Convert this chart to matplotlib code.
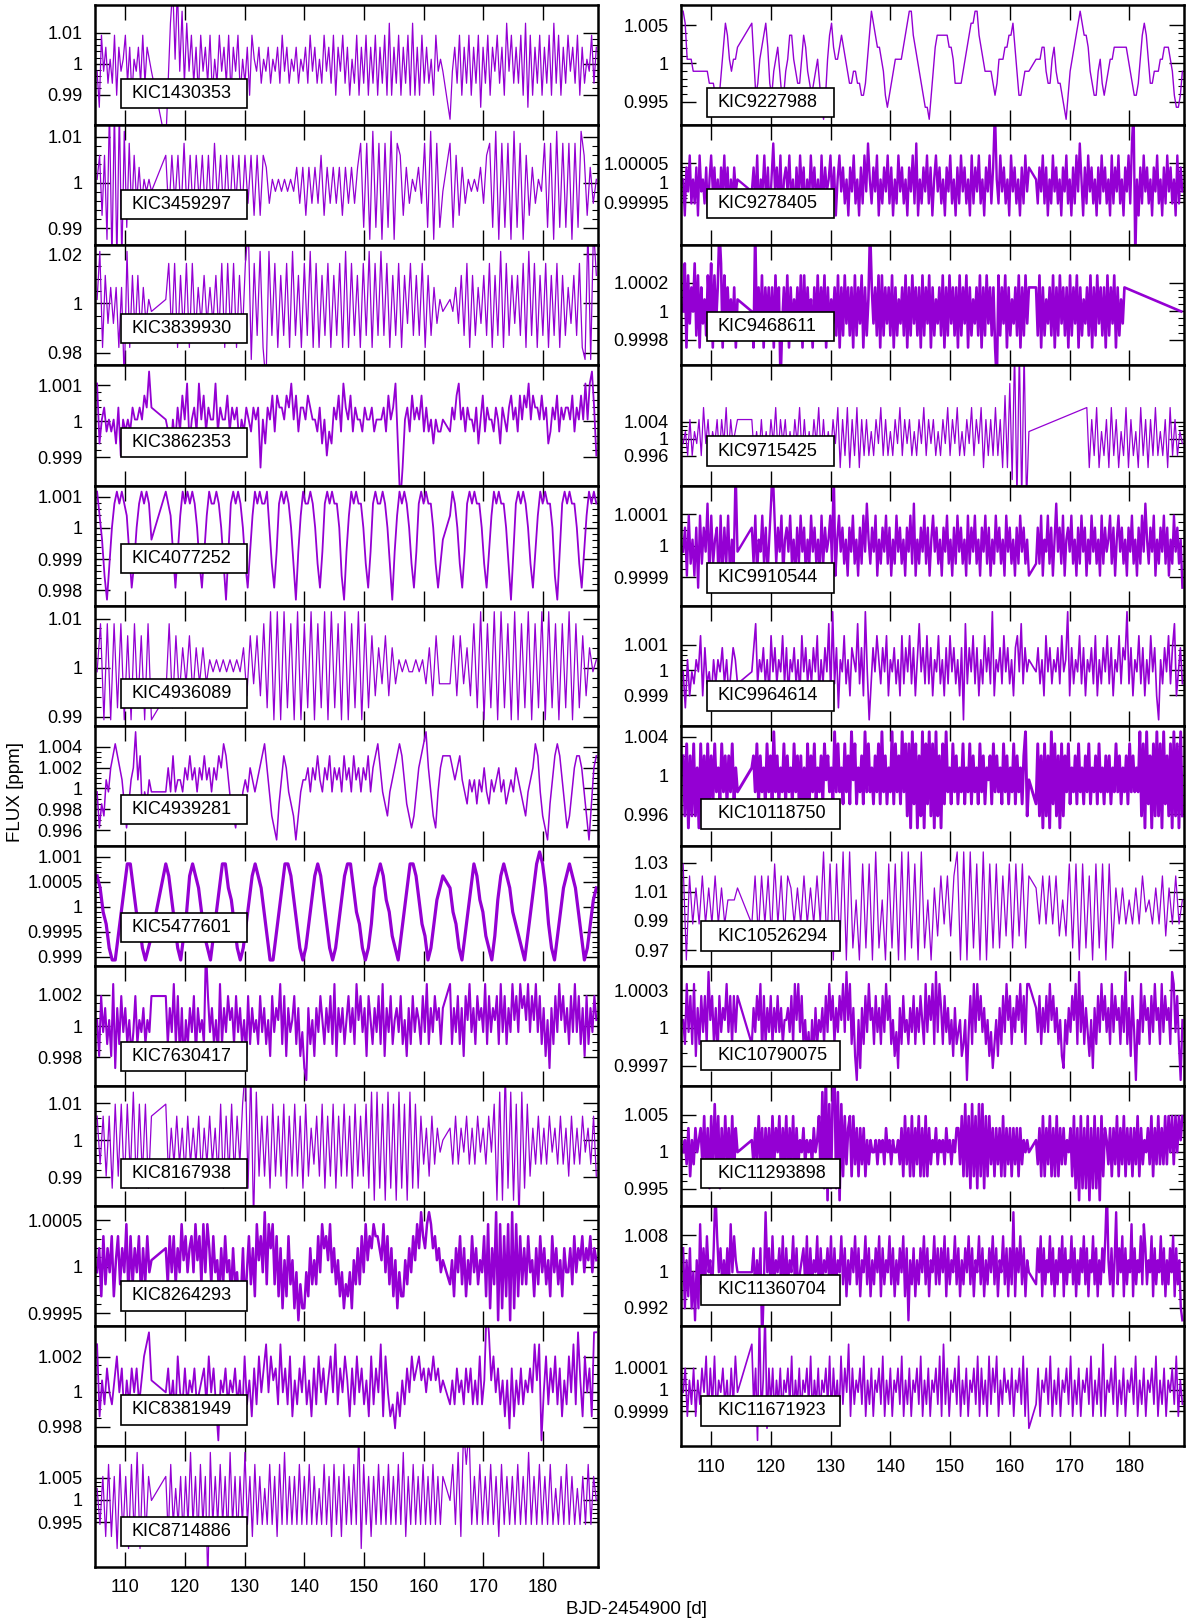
import numpy as np
import matplotlib.pyplot as plt
from matplotlib.patches import Rectangle
from matplotlib.ticker import FixedLocator

plt.rcParams['font.family'] = ['Liberation Sans', 'DejaVu Sans']

# observing windows (BJD-2454900); lines are drawn straight across the gaps
windows = [(105.3, 114.4), (116.8, 163.2), (164.4, 188.9)]
windows_kic9468611 = [(105.3, 114.4), (116.8, 163.2), (164.4, 179.2), (188.7, 188.7)]
windows_kic9715425 = [(105.3, 114.4), (116.8, 163.2), (172.9, 188.9)]

# flux, one digit per sample in each window:
# flux = base + digit * step ; '+' / '-' are samples that leave the panel
kic1430353 = ["41746353726457362546373654",
              "-38+5+49384736274637253746372647253627" "5463546354637463546354" "6374635374637264736253"
              "7263726372637282637263" "7282627363527454",
              "0463726372637163726473" "6284736372817263" "7263728372637463726354736"]
kic3459297 = ["57270+-+-+-918273635454",
              "727372827273727283727273727372727" "6354" "545454" "636263637263636263636" "8180918081908"
              "72635463" "8190814",
              "817263545" "4637" "819081809180" "726354" "8180918180819" "72635"]
kic3839930 = ["5917363616-9172726354",
              "5828172818263736372818281728+08291-928172819271829181728172819182718291829281728173827281726354",
              "5463728172637281729182737281928172817281726372810+0+7"]
kic3862353 = ["835645453625454655657696",
              "5425364758" "356485746558" "465574656354654656" "153" "65747665768574665765" "54635243"
              "657486574655465" "564555647568" "3-1" "5647565746" "4535445",
              "46578564655463574655465365467564757685766575634657465665746575858962"]
kic4077252 = ["97520368989874136898985",
              "98741" "47989898631" "4798898630" "489898631" "47989889631" "489898630" "4798898631"
              "4898988620" "4798988631" "4898898630" "479898631" "4898988631" "35",
              "798631" "4898988631" "4798988630" "489898631" "4798988620" "4898988631" "479898"]
kic4936089 = ["48080818070817080",
              "281726372" "636354545" "45454" "6273728190" "90918090819081909180908190" "817263726354"
              "544545362733",
              "372736281" "908190918090819081909180819081" "72645"]
kic4939281 = ["4132546787653135695724354",
              "464" "745" "54657564657564657" "68753" "21324" "5465456" "78642" "1035" "7643" "20245"
              "5646575465746564756475646574" "67864" "32456" "787532" "1246" "78964" "21467",
              "7656" "75435" "4535464354564534546543245" "68742" "1035" "78753" "1246" "77642" "0367"]
kic5477601 = ["7643100246886431012",
              "875310" "2478" "764210" "2468" "865310" "13578" "764200" "24688" "75310" "13578" "75310"
              "135788" "64310" "13678" "754210" "24688" "75320" "13567",
              "64310" "2468" "754210" "2578" "7643210" "246898" "6310" "246787" "64201" "356"]
kic7630417 = ["5274635281637463524735463547",
              "73648372615364726453+7463528364756374635273645374635274658372645736241063526475364738264635746385746275364738264735647352637465374836475636",
              "8364736275846375648374657384736485748675847584736251637485746374847362736475"]
kic8167938 = ["7372718281829182817",
              "8263736273637263" "736281728273" "8+1+-927" "2718272817282718263728172817282718272"
              "81909180918091809181" "736273645",
              "6373647363746374" "8090+1908-9182" "637363746373627363746372"]
kic8264293 = ["462736472573648273647263745",
              "6374736485746" "748573848" "6374526374526341" "2614736285749386" "8372615273514031"
              "14263537486" "75846352413" "241536374857687" "7658473625142" "25364758697689" "8675645",
              "35264736253746354" "72816390817280918273" "6374526374635274635264" "463746574657465"]
kic8381949 = ["82536435746253646357895",
              "4635274363" "546345637463054" "635463527352637" "46847563" "84637253647352637"
              "463574836475263746" "3527364827" "42314253" "6475675646575645",
              "3536453646353735+957463525162536354648580473647362537483952746299"]
kic8714886 = ["63728271827182918275",
              "72836372739372837-937383729372739372837363837283937373837383736383728372837383+1837273837383738392738373837383737",
              "58392+8+37383738372837373837393738373836373837363738375"]

kic9227988 = ["9855544444444333212468754556",
              "85235678632456422457754335764323453102578655676543344332235798766542123455556789976543211024677777766533334567889976544443235556677864223444",
              "55566433564332102456789877643224532345566666665432235787533444556665421124"]
kic9278405 = ["5264735362745362574635264736253645",
              "4637254736258463725647352637462537463527364573625746352647352637485364725364736253746352647382536473625746352647352637463527364735264736+5374635274635263746",
              "5364736253746352647352637485263746352637463527364735264738+-5263746352647352637463527364"]
kic9468611 = ["4817364827163527481736+81746352615",
              "41+26271636261726-3627162536271726351627263716253627162736261726371625+63627172636271625362716273626172637162536271627362617263716253627162736261-7263716253627162736",
              "62716253627162736261726371625362716273626172637162536",
              "4"]
kic9715425 = ["3425243526352435253625345",
              "52425242536253524253625242536252425361526152615252425362524253625352425362535242536253624253625361525262517180+-+-+-4",
              "6152614251625142615241625152624251625243"]
kic9910544 = ["4627352617364827356172637253+4",
              "637254736258+7364725647352637462537463527364573+2574635264735263748536472536473625374635264738253647362574635264735263746352736473526473625374635274635263746352",
              "3637254736258463725647352637462537463527364573625746352647352637485364725364736253746351"]
kic9964614 = ["41524354726342535463524653",
              "4683546352746354736254635274635364725364829361547352654836294036475364725463527364736258463736254735263746352608364736253746392546374635267483645",
              "463527463546374592635473625463725364736254736593625473625374620536473682463"]
kic10118750 = ["7281728261837283" "7384638473748364",
               "67483746384739473648374638473" "72618" "37483647385746" "3948463847395836473948463748394736"
               "4938473948" "281938172918392819271" "8394" "638473648364837463847365738474638473648374637" "925",
               "38271827193827182" "74836473846374836473846374736484736473847464" "92819371829281937281928192"]
kic10526294 = ["807363736373635556",
               "372737283727" "6363736373" "9180819091508180915081809091809150" "6273727" "9090918090"
               "8181728182817",
               "6373737252" "81808170818081" "636353637453637263735"]
kic10790075 = ["5384738263747395736274658473747",
               "3647582736" "4736474635" "5647385847" "3524152635" "4637485736" "4758495836" "2051637485"
               "6374637485" "7352416374" "5364736475" "3847583948" "6374635263" "4523504738" "4857463524"
               "1352637485" "7364758473" "88",
               "6473647485" "7463521536" "4758394736" "4251637485" "7463847563" "7493627405" "3847563748"
               "5638475639" "847305"]
kic11293898 = ["4536253645" "6372617283716273627264",
               "53637362636273647263726372635" "4635453645" "7291+0819+19082736" "72736263625354"
               "45354536453544" "536273627263726272635" "46354536453546" "637282718271828172736263"
               "627263626362635454",
               "53627263726272636354" "627160716170617160726" "536263726372636263726354" "637263736373747374757"]
kic11360704 = ["6152614051836374526+7463536384754",
               "462536-394" "6273546372635473624563726354726354637263" "5473625364736254736253647263547362536472"
               "6053625364" "7362547363647263547362536473625473625364736254736" "2639264736254",
               "3647263547362536472635473625364736254736253647+5362593647263548263547386354726354736253647263510"]
kic11671923 = ["462536253647263725463526374",
               "8360+25+1636253625463725362546372536254637263527364826354637253625463725362546372536254637253625463728362546372536254637263527364725364536254637261",
               "3625463725362546372536254637253628254637253625463725362546372536254637253"]

left_ids = ['KIC1430353', 'KIC3459297', 'KIC3839930', 'KIC3862353', 'KIC4077252', 'KIC4936089',
            'KIC4939281', 'KIC5477601', 'KIC7630417', 'KIC8167938', 'KIC8264293', 'KIC8381949',
            'KIC8714886']
left_curves = [kic1430353, kic3459297, kic3839930, kic3862353, kic4077252, kic4936089, kic4939281,
               kic5477601, kic7630417, kic8167938, kic8264293, kic8381949, kic8714886]
left_windows = [windows] * 13
left_base = [0.98195, 0.98761, 0.97724, 0.998386, 0.997693, 0.98942, 0.995075, 0.998931, 0.996536,
             0.983825, 0.999425, 0.997214, 0.98635]
left_step = [0.0039, 0.00262, 0.00487, 0.000332, 0.000386, 0.00244, 0.00115, 0.000241, 0.000771,
             0.00325, 0.000129, 0.000687, 0.0027]
left_ylim = [(0.980, 1.019), (0.9863, 1.0125), (0.9748, 1.0235), (0.99822, 1.00154), (0.9975, 1.00136),
             (0.9882, 1.0126), (0.9945, 1.0060), (0.99881, 1.00122), (0.99615, 1.00386), (0.9822, 1.0147),
             (0.99936, 1.00065), (0.99687, 1.00374), (0.985, 1.012)]
left_yticks = [[0.99, 1, 1.01], [0.99, 1, 1.01], [0.98, 1, 1.02], [0.999, 1, 1.001],
               [0.998, 0.999, 1, 1.001], [0.99, 1, 1.01], [0.996, 0.998, 1, 1.002, 1.004],
               [0.999, 0.9995, 1, 1.0005, 1.001], [0.998, 1, 1.002], [0.99, 1, 1.01],
               [0.9995, 1, 1.0005], [0.998, 1, 1.002], [0.995, 1, 1.005]]

right_ids = ['KIC9227988', 'KIC9278405', 'KIC9468611', 'KIC9715425', 'KIC9910544', 'KIC9964614',
             'KIC10118750', 'KIC10526294', 'KIC10790075', 'KIC11293898', 'KIC11360704', 'KIC11671923']
right_curves = [kic9227988, kic9278405, kic9468611, kic9715425, kic9910544, kic9964614, kic10118750,
                kic10526294, kic10790075, kic11293898, kic11360704, kic11671923]
right_windows = [windows, windows, windows_kic9468611, windows_kic9715425] + [windows] * 8
right_base = [0.992685, 0.999855, 0.999662, 0.99041, 0.999829, 0.99801, 0.993359, 0.96313, 0.999588,
              0.993415, 0.989225, 0.999768]
right_step = [0.00157, 0.0000307, 0.000084, 0.00282, 0.000038, 0.00048, 0.001238, 0.00826, 0.000095,
              0.00163, 0.00265, 0.000055]
right_ylim = [(0.9919, 1.0076), (0.99984, 1.000147), (0.99962, 1.00046), (0.989, 1.0172),
              (0.99981, 1.00019), (0.99777, 1.00257), (0.99274, 1.00512), (0.959, 1.0416),
              (0.99954, 1.00049), (0.9926, 1.0089), (0.9879, 1.0144), (0.99974, 1.00029)]
right_yticks = [[0.995, 1, 1.005], [0.99995, 1, 1.00005], [0.9998, 1, 1.0002], [0.996, 1, 1.004],
                [0.9999, 1, 1.0001], [0.999, 1, 1.001], [0.996, 1, 1.004], [0.97, 0.99, 1.01, 1.03],
                [0.9997, 1, 1.0003], [0.995, 1, 1.005], [0.992, 1, 1.008], [0.9999, 1, 1.0001]]

x_ticks = [110, 120, 130, 140, 150, 160, 170, 180]

# layout (figure fractions), label-box heights inside each panel, line widths
col_x = [0.0797, 0.5697]
col_w = 0.4199
top = 0.9968
row_h = 0.0740
left_label_y = [0.263, 0.340, 0.310, 0.357, 0.392, 0.271, 0.305, 0.322, 0.248, 0.270, 0.253, 0.304, 0.292]
right_label_y = [0.190, 0.348, 0.327, 0.287, 0.232, 0.249, 0.267, 0.249, 0.253, 0.270, 0.304, 0.295]
left_lw = [0.9, 0.9, 0.9, 1.3, 1.3, 0.9, 1.1, 2.3, 1.5, 0.9, 1.8, 1.3, 0.9]
right_lw = [1.0, 1.7, 1.9, 0.9, 1.7, 1.2, 2.1, 0.9, 1.6, 1.9, 1.7, 1.2]

color = '#9400d3'


def decode(chunks, wins, base, step):
    tt, ff = [], []
    for s, (t0, t1) in zip(chunks, wins):
        lv = np.array([11 if c == '+' else (-2 if c == '-' else int(c)) for c in s], float)
        tt.append(np.linspace(t0, t1, len(lv)))
        ff.append(base + lv * step)
    return np.concatenate(tt), np.concatenate(ff)


def minor_ticks(ticks):
    d = ticks[1] - ticks[0]
    mant = int(round(d / 10 ** np.floor(np.log10(d))))
    n = {1: 5, 2: 4, 3: 3, 4: 4, 5: 5, 8: 4}.get(mant, 4)
    out = []
    for a, b in zip(ticks[:-1], ticks[1:]):
        out.extend(np.linspace(a, b, n + 1)[1:-1])
    return out


fig = plt.figure(figsize=(11.96, 16.23), dpi=100)

columns = [(left_ids, left_curves, left_windows, left_base, left_step, left_ylim, left_yticks, left_label_y, left_lw),
           (right_ids, right_curves, right_windows, right_base, right_step, right_ylim, right_yticks, right_label_y, right_lw)]

for c, (ids, curves, wins, base, step, ylims, yticks, laby, lws) in enumerate(columns):
    n = len(ids)
    for i in range(n):
        ax = fig.add_axes([col_x[c], top - (i + 1) * row_h, col_w, row_h])
        t, f = decode(curves[i], wins[i], base[i], step[i])
        ax.plot(t, f, color=color, lw=lws[i])
        ax.set_xlim(105.0, 189.1)
        ax.set_ylim(*ylims[i])
        ax.set_xticks(x_ticks)
        ax.set_yticks(yticks[i])
        ax.set_yticklabels(['%g' % v for v in yticks[i]])
        ax.yaxis.set_minor_locator(FixedLocator(minor_ticks(yticks[i])))
        ax.tick_params(which='both', direction='in', top=True, right=True, labelsize=13)
        ax.tick_params(which='major', length=10.5, width=1.0, pad=9)
        ax.tick_params(which='minor', length=4.5, width=0.8)
        if i < n - 1:
            ax.tick_params(labelbottom=False)
        for sp in ax.spines.values():
            sp.set_linewidth(1.8)
        w = 0.0251 * len(ids[i])
        h = 0.245
        ax.add_patch(Rectangle((0.1775 - w / 2, laby[i] - h / 2), w, h, transform=ax.transAxes,
                               facecolor='white', edgecolor='black', lw=1.2, zorder=5))
        ax.text(0.072, laby[i], ids[i], transform=ax.transAxes, ha='left', va='center',
                fontsize=13, zorder=6)

fig.text(0.013, 0.512, 'FLUX [ppm]', rotation=90, ha='center', va='center', fontsize=13.5)
fig.text(0.5325, 0.0083, 'BJD-2454900 [d]', ha='center', va='center', fontsize=13.5)

fig.savefig('out.png', dpi=100)
